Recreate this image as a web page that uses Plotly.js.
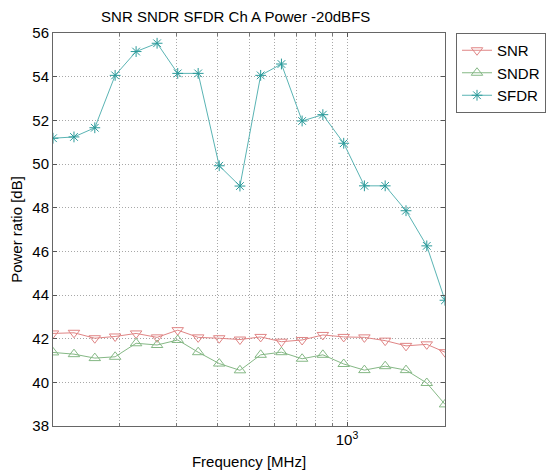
<!DOCTYPE html>
<html>
<head>
<meta charset="utf-8">
<script src="https://cdn.plot.ly/plotly-3.0.1.min.js"></script>
<style>html,body{margin:0;padding:0;background:#fff;}#chart{width:551px;height:470px;}</style>
</head>
<body>
<div id="chart"></div>
<script>
var freqMHz = [125, 145, 168, 194, 225, 261, 302, 349, 405, 469, 543, 629, 728, 843, 977, 1131, 1310, 1518, 1758, 2000];
var snr  = [42.24, 42.27, 42.02, 42.10, 42.24, 42.06, 42.39, 42.06, 42.02, 41.96, 42.08, 41.86, 41.94, 42.17, 42.08, 42.06, 41.91, 41.67, 41.74, 41.38];
var sndr = [41.37, 41.29, 41.11, 41.17, 41.79, 41.71, 41.94, 41.38, 40.86, 40.55, 41.26, 41.38, 41.08, 41.26, 40.84, 40.56, 40.74, 40.56, 39.97, 38.99];
var sfdr = [51.18, 51.24, 51.66, 54.06, 55.15, 55.53, 54.15, 54.15, 49.92, 48.99, 54.06, 54.58, 51.97, 52.26, 50.95, 49.00, 49.00, 47.86, 46.25, 43.76];
var xMajorTicks = [1000];
var xMajorText = ['10<sup>3</sup>'];
var xMinorTicks = [200, 300, 400, 500, 600, 700, 800, 900];
var yTickVals = [38, 40, 42, 44, 46, 48, 50, 52, 54, 56];

var font = 'Liberation Sans, Arial, sans-serif';
var gridDash = '1px,2px';
var gridColor = '#a8a8a8';
var traces = [
  {x: freqMHz, y: snr, name: 'SNR', mode: 'lines+markers',
   line: {color: '#e08585', width: 1},
   marker: {symbol: 'triangle-down-open', size: 10, color: '#e08585', line: {width: 1}}},
  {x: freqMHz, y: sndr, name: 'SNDR', mode: 'lines+markers',
   line: {color: '#85b885', width: 1},
   marker: {symbol: 'triangle-up-open', size: 10, color: '#85b885', line: {width: 1}}},
  {x: freqMHz, y: sfdr, name: 'SFDR', mode: 'lines+markers',
   line: {color: '#5ab4b4', width: 1},
   marker: {symbol: 'asterisk-open', size: 9, color: '#2a9a9a', line: {width: 1, color: '#5ab4b4'}}}
];
var layout = {
  width: 551, height: 470,
  margin: {l: 53, r: 106, t: 33, b: 44},
  paper_bgcolor: '#fff', plot_bgcolor: '#fff',
  font: {family: font, size: 14, color: '#000'},
  title: {text: 'SNR SNDR SFDR Ch A Power -20dBFS', font: {family: font, size: 15, color: '#000'},
          x: 0.466, xref: 'paper', xanchor: 'center', y: 0.965, yref: 'container', yanchor: 'middle'},
  xaxis: {type: 'log', range: [Math.log10(125), Math.log10(2000)],
          tickvals: xMajorTicks, ticktext: xMajorText, ticks: 'inside', ticklen: 4, tickcolor: '#555',
          showgrid: true, gridcolor: gridColor, griddash: gridDash, gridwidth: 1,
          minor: {tickvals: xMinorTicks, ticks: 'inside', ticklen: 3, tickcolor: '#777',
                  showgrid: true, gridcolor: gridColor, griddash: gridDash, gridwidth: 1},
          showline: true, linecolor: '#666', linewidth: 1, mirror: 'ticks',
          zeroline: false, tickfont: {size: 15},
          title: {text: 'Frequency [MHz]', font: {size: 15}, standoff: 10}},
  yaxis: {range: [38, 56], tickvals: yTickVals, ticks: 'inside', ticklen: 4, tickcolor: '#555',
          showgrid: true, gridcolor: gridColor, griddash: gridDash, gridwidth: 1,
          showline: true, linecolor: '#666', linewidth: 1, mirror: 'ticks',
          zeroline: false, tickfont: {size: 15},
          title: {text: 'Power ratio [dB]', font: {size: 15}, standoff: 6}},
  showlegend: true,
  legend: {xref: 'container', yref: 'container', x: 456 / 551, xanchor: 'left', y: 1 - 33 / 470, yanchor: 'top',
           bordercolor: '#666', borderwidth: 1, bgcolor: '#fff',
           font: {size: 15}, tracegroupgap: 0, itemwidth: 30}
};
Plotly.newPlot('chart', traces, layout, {displayModeBar: false, staticPlot: true});
</script>
</body>
</html>
